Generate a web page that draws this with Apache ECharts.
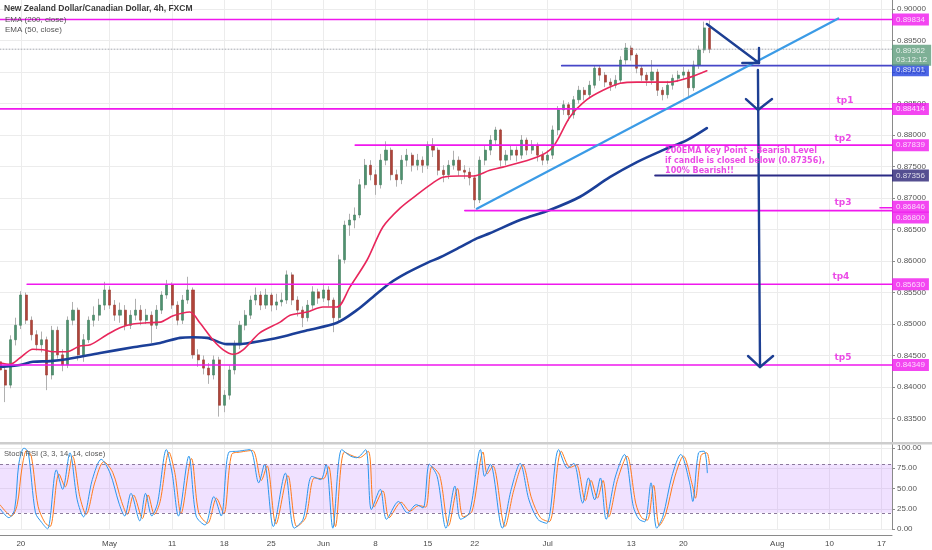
<!DOCTYPE html>
<html><head><meta charset="utf-8">
<script src="https://cdn.jsdelivr.net/npm/echarts@6.0.0/dist/echarts.min.js"></script>
<style>html,body{margin:0;padding:0;background:#fff}#c{width:932px;height:550px}</style>
</head><body><div id="c"></div>
<script>
// ---------- data ----------
const SLOTS = 172;
const tickSlots  = [4, 21, 33, 43, 52, 62, 72, 82, 91, 105, 121, 131, 149, 159, 169];
const tickLabels = ['20','May','11','18','25','Jun','8','15','22','Jul','13','20','Aug','10','17'];

// [open, close, low, high]
const candles = [
[0.8440,0.8427,0.8412,0.8452],[0.8427,0.8403,0.8376,0.8432],[0.8403,0.8475,0.8398,0.8482],[0.8475,0.8498,0.8466,0.8510],
[0.8498,0.8546,0.8492,0.8552],[0.8546,0.8506,0.8500,0.8550],[0.8506,0.8483,0.8474,0.8512],[0.8483,0.8467,0.8458,0.8490],
[0.8467,0.8475,0.8455,0.8488],[0.8475,0.8419,0.8395,0.8480],[0.8419,0.8490,0.8412,0.8497],[0.8490,0.8451,0.8445,0.8496],
[0.8451,0.8435,0.8425,0.8460],[0.8435,0.8506,0.8430,0.8512],[0.8506,0.8522,0.8498,0.8535],[0.8522,0.8451,0.8442,0.8526],
[0.8451,0.8475,0.8440,0.8484],[0.8475,0.8506,0.8470,0.8512],[0.8506,0.8514,0.8496,0.8528],[0.8514,0.8530,0.8505,0.8540],
[0.8530,0.8554,0.8522,0.8567],[0.8554,0.8530,0.8524,0.8560],[0.8530,0.8514,0.8505,0.8538],[0.8514,0.8522,0.8502,0.8534],
[0.8522,0.8498,0.8490,0.8530],[0.8498,0.8514,0.8492,0.8522],[0.8514,0.8522,0.8506,0.8540],[0.8522,0.8506,0.8498,0.8530],
[0.8506,0.8514,0.8500,0.8524],[0.8514,0.8498,0.8470,0.8520],[0.8498,0.8522,0.8492,0.8530],[0.8522,0.8546,0.8516,0.8552],
[0.8546,0.8562,0.8540,0.8570],[0.8562,0.8530,0.8524,0.8566],[0.8530,0.8506,0.8498,0.8536],[0.8506,0.8538,0.8500,0.8546],
[0.8538,0.8554,0.8532,0.8575],[0.8554,0.8451,0.8445,0.8558],[0.8451,0.8443,0.8432,0.8460],[0.8443,0.8430,0.8420,0.8450],
[0.8430,0.8419,0.8405,0.8438],[0.8419,0.8443,0.8412,0.8450],[0.8443,0.8371,0.8353,0.8448],[0.8371,0.8387,0.8360,0.8395],
[0.8387,0.8427,0.8380,0.8434],[0.8427,0.8467,0.8420,0.8474],[0.8467,0.8498,0.8460,0.8505],[0.8498,0.8514,0.8490,0.8522],
[0.8514,0.8538,0.8508,0.8545],[0.8538,0.8546,0.8530,0.8558],[0.8546,0.8530,0.8522,0.8552],[0.8530,0.8546,0.8524,0.8556],
[0.8546,0.8530,0.8520,0.8550],[0.8530,0.8535,0.8522,0.8548],[0.8535,0.8538,0.8528,0.8550],[0.8538,0.8578,0.8532,0.8585],
[0.8578,0.8538,0.8530,0.8582],[0.8538,0.8522,0.8512,0.8544],[0.8522,0.8510,0.8495,0.8528],[0.8510,0.8530,0.8504,0.8538],
[0.8530,0.8551,0.8524,0.8560],[0.8551,0.8541,0.8532,0.8556],[0.8541,0.8554,0.8535,0.8564],[0.8554,0.8538,0.8528,0.8560],
[0.8538,0.8510,0.8487,0.8542],[0.8510,0.8602,0.8505,0.8610],[0.8602,0.8657,0.8596,0.8664],[0.8657,0.8665,0.8640,0.8675],
[0.8665,0.8673,0.8652,0.8685],[0.8673,0.8721,0.8668,0.8730],[0.8721,0.8752,0.8715,0.8762],[0.8752,0.8737,0.8728,0.8760],
[0.8737,0.8721,0.8705,0.8745],[0.8721,0.8760,0.8715,0.8770],[0.8760,0.8776,0.8752,0.8790],[0.8776,0.8737,0.8728,0.8780],
[0.8737,0.8729,0.8718,0.8745],[0.8729,0.8760,0.8722,0.8768],[0.8760,0.8768,0.8750,0.8778],[0.8768,0.8752,0.8742,0.8772],
[0.8752,0.8760,0.8744,0.8770],[0.8760,0.8752,0.8740,0.8766],[0.8752,0.8784,0.8746,0.8790],[0.8784,0.8776,0.8765,0.8795],
[0.8776,0.8744,0.8736,0.8780],[0.8744,0.8737,0.8725,0.8752],[0.8737,0.8752,0.8730,0.8760],[0.8752,0.8760,0.8745,0.8775],
[0.8760,0.8744,0.8735,0.8766],[0.8744,0.8741,0.8730,0.8752],[0.8741,0.8732,0.8720,0.8748],[0.8732,0.8697,0.8684,0.8736],
[0.8697,0.8760,0.8692,0.8766],[0.8760,0.8776,0.8752,0.8784],[0.8776,0.8792,0.8768,0.8800],[0.8792,0.8808,0.8785,0.8813],
[0.8808,0.8760,0.8750,0.8810],[0.8760,0.8768,0.8752,0.8776],[0.8768,0.8776,0.8760,0.8784],[0.8776,0.8768,0.8758,0.8782],
[0.8768,0.8792,0.8762,0.8800],[0.8792,0.8776,0.8768,0.8796],[0.8776,0.8784,0.8770,0.8792],[0.8784,0.8768,0.8758,0.8788],
[0.8768,0.8760,0.8752,0.8774],[0.8760,0.8768,0.8754,0.8776],[0.8768,0.8808,0.8762,0.8815],[0.8808,0.8840,0.8800,0.8846],
[0.8840,0.8848,0.8832,0.8855],[0.8848,0.8832,0.8822,0.8852],[0.8832,0.8856,0.8826,0.8862],[0.8856,0.8871,0.8850,0.8878],
[0.8871,0.8864,0.8855,0.8876],[0.8864,0.8879,0.8858,0.8886],[0.8879,0.8906,0.8874,0.8911],[0.8906,0.8895,0.8886,0.8910],
[0.8895,0.8884,0.8876,0.8900],[0.8884,0.8879,0.8870,0.8890],[0.8879,0.8887,0.8874,0.8895],[0.8887,0.8919,0.8882,0.8925],
[0.8919,0.8938,0.8912,0.8946],[0.8938,0.8927,0.8918,0.8942],[0.8927,0.8906,0.8898,0.8930],[0.8906,0.8895,0.8886,0.8910],
[0.8895,0.8887,0.8878,0.8900],[0.8887,0.8900,0.8880,0.8919],[0.8900,0.8871,0.8862,0.8905],[0.8871,0.8864,0.8855,0.8876],
[0.8864,0.8879,0.8858,0.8886],[0.8879,0.8890,0.8872,0.8896],[0.8890,0.8895,0.8884,0.8902],[0.8895,0.8900,0.8888,0.8908],
[0.8900,0.8875,0.8860,0.8904],[0.8875,0.8911,0.8870,0.8918],[0.8911,0.8935,0.8905,0.8942],[0.8935,0.8970,0.8930,0.8980],
[0.8970,0.8936,0.8930,0.8982]
];

const ema50 = [[0,0.8438],[1.9,0.8436],[3.8,0.8446],[6.3,0.8460],[8.2,0.8459],[10.2,0.8456],[12.8,0.8456],[15.3,0.8465],[17.3,0.8467],[20.5,0.8483],[23,0.8494],[25.5,0.8500],[28.2,0.8502],[30.7,0.8503],[33.2,0.8513],[36.4,0.8519],[38.3,0.8502],[40.8,0.8475],[42.8,0.8459],[44.7,0.8452],[46.6,0.8459],[49.8,0.8486],[53.7,0.8503],[55.6,0.8514],[58.9,0.8519],[61.9,0.8527],[64.6,0.8527],[67.1,0.8559],[70.4,0.8602],[73.4,0.8654],[76.7,0.8684],[79.9,0.8705],[83,0.8724],[84.9,0.8733],[88.2,0.8735],[90.7,0.8735],[93.9,0.8744],[96.4,0.8749],[103,0.8765],[106,0.8781],[109.3,0.8829],[112.5,0.8856],[115.6,0.8871],[118.9,0.8882],[122.1,0.8884],[125.2,0.8884],[128.4,0.8884],[131.7,0.8890],[135.5,0.8902]];
const ema200 = [[0,0.8432],[3.8,0.8435],[6.3,0.8440],[9.6,0.8441],[12.8,0.8444],[19.2,0.8454],[25.5,0.8463],[30.7,0.8470],[34.5,0.8478],[37,0.8479],[39.7,0.8478],[43.5,0.8468],[46,0.8468],[47.9,0.8470],[53.7,0.8479],[58.9,0.8490],[64.6,0.8502],[68.4,0.8522],[71.5,0.8543],[74.8,0.8565],[78,0.8581],[81.9,0.8597],[84.4,0.8606],[88.2,0.8622],[91.4,0.8636],[93.9,0.8644],[99.7,0.8665],[105.4,0.8681],[111.2,0.8702],[116.9,0.8733],[122.1,0.8757],[127.1,0.8776],[131.7,0.8792],[135.5,0.8811]];

const stochK = [[0,25],[1.7,14],[2.8,24],[3.6,80],[4.6,100],[5.4,95],[6.8,20],[8,8],[9.1,0],[10.8,73],[12,49],[13.4,94],[14.8,36],[16,15],[17.7,61],[19.4,86],[21.1,69],[22.8,32],[23.9,16],[25.1,44],[26.8,10],[27.9,44],[29.1,16],[30.2,32],[31.9,98],[33,69],[34.2,16],[36.2,90],[37.6,16],[39.3,5],[41,40],[42.4,16],[43.9,95],[45.6,96],[47.9,98],[49.6,57],[50.7,80],[52.4,3],[54.7,69],[56.4,1],[58.1,12],[59.8,65],[61.5,61],[62.5,80],[63.8,1],[65.5,98],[67.2,90],[68.4,88],[70.1,98],[71.2,24],[72.9,49],[74.1,12],[76.4,34],[78.1,20],[79.8,30],[81.1,26],[82.3,80],[83.8,65],[85.5,1],[87.2,53],[88.3,12],[90,20],[92.1,98],[92.9,65],[94,80],[96.3,1],[98,49],[99.7,81],[101.4,36],[103.1,12],[104.8,7],[107.1,98],[108.8,75],[110,81],[111.7,32],[112.8,63],[114,36],[115.1,63],[116.2,12],[117.9,63],[119.7,92],[121.4,28],[122.5,12],[123.6,9],[124.8,57],[125.9,1],[127.1,16],[128.8,65],[130.5,92],[132.2,57],[132.8,34],[133.9,94],[135,96],[135.6,69]];
const stochD = [[0,30],[2.2,16],[3.3,30],[4.2,75],[5.1,97],[6,90],[7.3,28],[8.6,8],[9.6,3],[11.3,68],[12.5,52],[13.9,90],[15.3,40],[16.5,18],[18.2,58],[19.9,83],[21.6,70],[23.3,34],[24.4,18],[25.6,42],[27.3,13],[28.4,42],[29.6,18],[30.7,34],[32.4,95],[33.5,70],[34.7,19],[36.7,87],[38.1,20],[39.8,7],[41.5,38],[42.9,19],[44.4,92],[46.1,95],[48.4,97],[50.1,60],[51.2,78],[52.9,6],[55.2,66],[56.9,3],[58.6,14],[60.3,63],[62,62],[63,77],[64.3,3],[66,95],[67.7,90],[68.9,88],[70.6,96],[71.7,27],[73.4,47],[74.6,14],[76.9,33],[78.6,22],[80.3,29],[81.6,27],[82.8,77],[84.3,66],[86,4],[87.7,50],[88.8,15],[90.5,22],[92.6,95],[93.4,68],[94.5,78],[96.8,3],[98.5,48],[100.2,79],[101.9,38],[103.6,14],[105.3,9],[107.6,96],[109.3,76],[110.5,79],[112.2,35],[113.3,60],[114.5,38],[115.6,60],[116.7,15],[118.4,61],[120.2,90],[121.9,31],[123,14],[124.1,11],[125.3,54],[126.4,4],[127.6,18],[129.3,63],[131,90],[132.7,55],[133.3,38],[134.4,91],[135.5,94],[136,80]];

// drawings (data coordinates: slot, price)
const tpLevels = [0.89834, 0.88414, 0.87839, 0.86846, 0.86800, 0.85630, 0.84349];
const tpFrom   = [0, 0, 68.1, 168.7, 89.1, 5.2, 0];
const tpNames  = ['tp1','tp2','tp3','tp4','tp5'];
const tpNameAt = [[162,0.88540],[161.6,0.87937],[161.6,0.86921],[161.2,0.85746],[161.6,0.84460]];
const midLevel = 0.89101, midFrom = 107.7;
const keyLevel = 0.87356, keyFrom = 125.6;
const lastPrice = 0.89362, countdown = '03:12:12';
const trendLine = [[91.4,0.8683],[160.7,0.8985]];
const arrowDiag = [[135.5,0.89762],[145.5,0.89143]];
const arrowDiagHead = [[142.3,0.89143],[145.5,0.89143],[145.5,0.89381]];
const arrowDown = [[145.3,0.89032],[145.7,0.84317]];
const arrowHead1 = [[143,0.88571],[145.3,0.88397],[148,0.88571]];
const arrowHead2 = [[143.4,0.84492],[145.7,0.84317],[148.2,0.84492]];
const noteText = '200EMA Key Point - Bearish Level\nif candle is closed below (0.87356),\n100% Bearish!!';
const noteAt = [127.5, 0.87825];
const stochBand = [20, 80];

// ---------- chart ----------
const FONT = 'Liberation Sans, Arial, sans-serif';
const MAG = '#f018ee';
const cats = Array.from({length: SLOTS}, (_, i) => 'k' + i);
const labelBySlot = {};
tickSlots.forEach((s, i) => { labelBySlot[s] = tickLabels[i]; });
const isTick = (i) => labelBySlot[i] !== undefined;
const GRID_LINE = '#ececec';

const seg = (pts, color, width, type, z) => ({
  type: 'line', xAxisIndex: 1, yAxisIndex: 0, data: pts, symbol: 'none', silent: true,
  lineStyle: {color: color, width: width, type: type || 'solid', cap: 'round', join: 'round'}, z: z || 5
});

const series = [];
series.push({
  type: 'candlestick', xAxisIndex: 0, yAxisIndex: 0, barWidth: 1,
  data: candles.map(c => [c[0], c[1], c[2], c[3]]),
  itemStyle: {color: '#b0b0b0', color0: '#b0b0b0', borderColor: '#b0b0b0', borderColor0: '#b0b0b0', borderWidth: 1},
  z: 2
});
series.push({
  type: 'candlestick', xAxisIndex: 0, yAxisIndex: 0, barWidth: 2.6,
  data: candles.map(c => [c[0], c[1], Math.min(c[0], c[1]), Math.max(c[0], c[1])]),
  itemStyle: {color: '#4f9170', color0: '#b0443a', borderColor: '#3f7d5d', borderColor0: '#9a3a31', borderWidth: 0.6},
  z: 3
});
series.push(Object.assign(seg(ema200, '#1b3f98', 2.6, 'solid', 4), {smooth: 0.3}));
series.push(Object.assign(seg(ema50, '#e8275c', 1.6, 'solid', 4), {smooth: 0.3}));

// levels
tpLevels.forEach((p, i) => series.push(seg([[tpFrom[i], p], [SLOTS - 1, p]], MAG, 1.6)));
series.push(seg([[midFrom, midLevel], [SLOTS - 1, midLevel]], '#4646c8', 1.8));
series.push(seg([[keyFrom, keyLevel], [SLOTS - 1, keyLevel]], '#2b2a86', 2));
series.push(seg([[0, lastPrice], [SLOTS - 1, lastPrice]], '#a6a9b0', 1, [1, 2]));
series.push(seg(trendLine, '#3b9be6', 2.2, 'solid', 6));
series.push(seg(arrowDiag, '#1d3f93', 2.4, 'solid', 7));
series.push(seg(arrowDiagHead, '#1d3f93', 2.4, 'solid', 7));
series.push(seg(arrowDown, '#1d3f93', 2.4, 'solid', 7));
series.push(seg(arrowHead1, '#1d3f93', 2.4, 'solid', 7));
series.push(seg(arrowHead2, '#1d3f93', 2.4, 'solid', 7));

// price tags on the right axis
const tagLabel = {show: true, position: 'right', distance: 0, color: '#fff', fontSize: 8, fontFamily: FONT,
  padding: [2, 4, 1, 4], lineHeight: 9};
const tag = (p, bg, dy, text) => ({
  value: [SLOTS - 1, p],
  label: Object.assign({}, tagLabel, {backgroundColor: bg, offset: [0, dy || 0], formatter: text || p.toFixed(5)})
});
const tags = tpLevels.map((p, i) => tag(p, MAG, (p === 0.86800 ? 7 : (p === 0.86846 ? -1 : 0))));
tags.push(tag(midLevel, '#2140e0', 4.5));
tags.push(tag(keyLevel, '#2a2376', 0));
tags.push(tag(lastPrice, '#5e9c7c', 6, lastPrice.toFixed(5) + '\n' + countdown));
series.push({type: 'scatter', xAxisIndex: 1, yAxisIndex: 0, symbolSize: 0, clip: false, silent: true, data: tags, z: 20});

// text annotations
const texts = tpNames.map((n, i) => ({
  value: tpNameAt[i],
  label: {show: true, position: [0, 0], align: 'center', verticalAlign: 'middle', formatter: n,
    color: '#e61ee0', fontSize: 9, fontWeight: 'bold', fontFamily: 'DejaVu Sans, Verdana, sans-serif'}
}));
texts.push({
  value: noteAt,
  label: {show: true, position: [0, 0], align: 'left', verticalAlign: 'top', formatter: noteText,
    color: '#e61ee0', fontSize: 8, lineHeight: 9.8, fontWeight: 'bold', fontFamily: 'DejaVu Sans, Verdana, sans-serif'}
});
series.push({type: 'scatter', xAxisIndex: 1, yAxisIndex: 0, symbolSize: 0, clip: false, silent: true, data: texts, z: 15});

// stoch RSI
series.push({
  type: 'line', xAxisIndex: 3, yAxisIndex: 1, data: stochK, symbol: 'none', smooth: 0.3, silent: true,
  lineStyle: {color: '#2a96ee', width: 1},
  markArea: {silent: true, itemStyle: {color: 'rgba(186, 120, 255, 0.22)'}, data: [[{yAxis: stochBand[0]}, {yAxis: stochBand[1]}]]},
  markLine: {silent: true, symbol: ['none', 'none'], label: {show: false},
    lineStyle: {color: '#8c7a9c', type: [3, 3], width: 1}, data: [{yAxis: stochBand[1]}, {yAxis: stochBand[0]}]},
  z: 3
});
series.push({
  type: 'line', xAxisIndex: 3, yAxisIndex: 1, data: stochD, symbol: 'none', smooth: 0.3, silent: true,
  lineStyle: {color: '#ff7a1a', width: 1}, z: 2
});

const option = {
  animation: false,
  backgroundColor: '#ffffff',
  grid: [
    {left: 0, right: 40, top: -22.5, bottom: 100, outerBoundsMode: 'none', containLabel: false},
    {left: 0, right: 40, top: 448, height: 81, outerBoundsMode: 'none', containLabel: false}
  ],
  xAxis: [
    {type: 'category', gridIndex: 0, data: cats, boundaryGap: false,
      axisLine: {show: false, onZero: false}, axisTick: {show: false}, axisLabel: {show: false},
      splitLine: {show: true, interval: isTick, lineStyle: {color: GRID_LINE, width: 1}}},
    {type: 'value', gridIndex: 0, min: 0, max: SLOTS - 1, show: false, axisLine: {onZero: false}},
    {type: 'category', gridIndex: 1, data: cats, boundaryGap: false, offset: 6,
      axisLine: {show: true, onZero: false, lineStyle: {color: '#8a8a8a'}}, axisTick: {show: false},
      axisLabel: {show: true, interval: isTick, formatter: (v) => labelBySlot[+v.slice(1)] || '',
        fontSize: 8, color: '#4a4a4a', fontFamily: FONT, margin: 5},
      splitLine: {show: true, interval: isTick, lineStyle: {color: GRID_LINE, width: 1}}},
    {type: 'value', gridIndex: 1, min: 0, max: SLOTS - 1, show: false, axisLine: {onZero: false}}
  ],
  yAxis: [
    {type: 'value', gridIndex: 0, position: 'right', min: 0.83, max: 0.905, interval: 0.005,
      axisLine: {show: true, onZero: false, lineStyle: {color: '#8a8a8a'}},
      axisTick: {show: true, length: 3, lineStyle: {color: '#8a8a8a'}},
      axisLabel: {fontSize: 8, color: '#555', fontFamily: FONT, margin: 5, formatter: v => v.toFixed(5),
        showMinLabel: false, showMaxLabel: false},
      splitLine: {show: true, showMinLine: false, showMaxLine: false, lineStyle: {color: GRID_LINE}}},
    {type: 'value', gridIndex: 1, position: 'right', min: 0, max: 100, interval: 25,
      axisLine: {show: true, onZero: false, lineStyle: {color: '#8a8a8a'}},
      axisTick: {show: true, length: 3, lineStyle: {color: '#8a8a8a'}},
      axisLabel: {fontSize: 8, color: '#555', fontFamily: FONT, margin: 5, formatter: v => v.toFixed(2)},
      splitLine: {show: true, lineStyle: {color: GRID_LINE}}}
  ],
  graphic: [
    {type: 'text', left: 4, top: 4, z: 50, style: {text: 'New Zealand Dollar/Canadian Dollar, 4h, FXCM', fill: '#3a3a3a', font: 'bold 8.5px ' + FONT}},
    {type: 'text', left: 5, top: 16, z: 50, style: {text: 'EMA (200, close)', fill: '#555', font: '8px ' + FONT}},
    {type: 'text', left: 5, top: 26, z: 50, style: {text: 'EMA (50, close)', fill: '#555', font: '8px ' + FONT}},
    {type: 'text', left: 4, top: 450, z: 50, style: {text: 'Stoch RSI (3, 3, 14, 14, close)', fill: '#555', font: '7.6px ' + FONT}},
    {type: 'rect', left: 0, top: 442, z: 60, shape: {width: 932, height: 2.5}, style: {fill: '#cdcdcd'}}
  ],
  series: series
};
const chart = echarts.init(document.getElementById('c'));
chart.setOption(option);
</script>
</body></html>
